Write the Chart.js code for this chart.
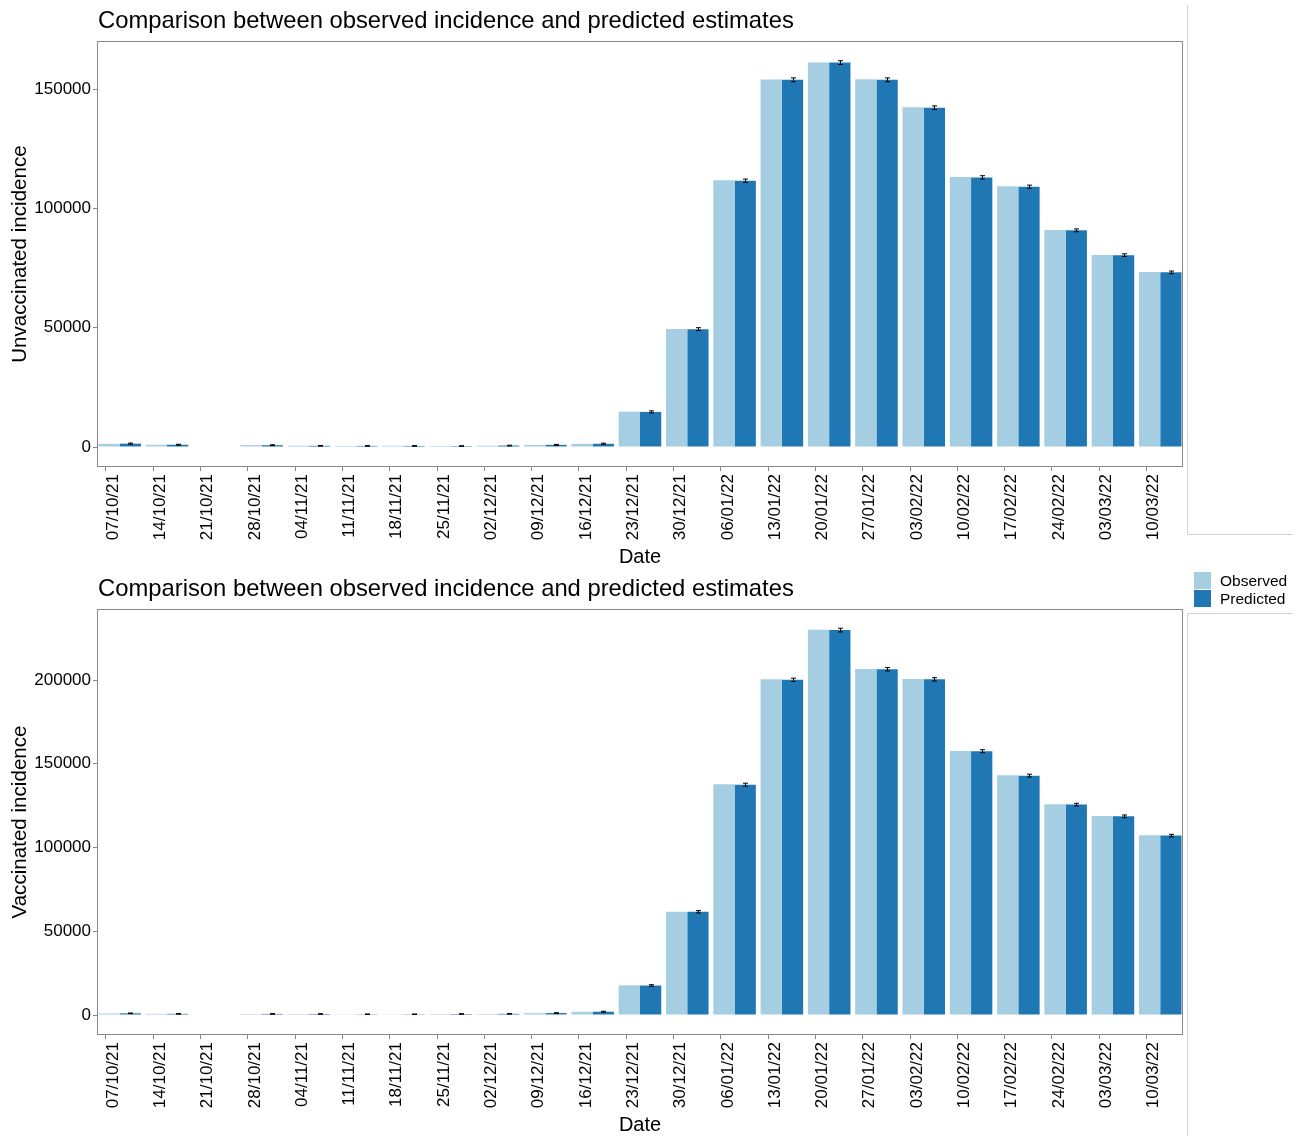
<!DOCTYPE html>
<html><head><meta charset="utf-8">
<script src="https://cdn.jsdelivr.net/npm/chart.js@4"></script>
<style>
html,body{margin:0;padding:0;background:#fff;}
#wrap{position:relative;width:1306px;height:1136px;overflow:hidden;font-family:"Liberation Sans",Arial,sans-serif;}
.cv{position:absolute;left:0;width:1306px;height:568px;}
.ln{position:absolute;background:#d4d4d4;}
.lg{position:absolute;left:1194px;width:17px;height:17px;}
.lt{position:absolute;left:1220px;font-size:15.5px;line-height:18px;color:#000;}
</style></head><body>
<div id="wrap">
<div class="cv" style="top:0"><canvas id="c1" width="1306" height="568"></canvas></div>
<div class="cv" style="top:568px"><canvas id="c2" width="1306" height="568"></canvas></div>
<div class="ln" style="left:1187px;top:5px;width:1px;height:530px"></div>
<div class="ln" style="left:1187px;top:534px;width:106px;height:1px"></div>
<div class="ln" style="left:1187px;top:613px;width:106px;height:1px"></div>
<div class="ln" style="left:1187px;top:613px;width:1px;height:523px"></div>
<div class="lg" style="top:572px;background:#A6CEE3"></div>
<div class="lg" style="top:590px;background:#1F78B4"></div>
<div class="lt" style="top:572px">Observed</div>
<div class="lt" style="top:590px">Predicted</div>
</div>
<script>
const tickLabels = ["07/10/21","14/10/21","21/10/21","28/10/21","04/11/21","11/11/21","18/11/21","25/11/21","02/12/21","09/12/21","16/12/21","23/12/21","30/12/21","06/01/22","13/01/22","20/01/22","27/01/22","03/02/22","10/02/22","17/02/22","24/02/22","03/03/22","10/03/22"];

const unvaxObserved  = [1300, 900, null, 800, 550, 450, 500, 450, 550, 850, 1300, 14800, 49500, 111800, 154000, 161200, 154100, 142400, 113200, 109300, 90900, 80500, 73300];
const unvaxPredicted = [1400, 950, null, 750, 500, 450, 450, 400, 600, 900, 1350, 14700, 49400, 111600, 153900, 161100, 153900, 142200, 113000, 109100, 90800, 80400, 73200];
const unvaxError     = [250, 200, null, 180, 150, 120, 130, 120, 150, 200, 250, 450, 600, 700, 800, 800, 800, 750, 700, 650, 600, 550, 550];

const vaxObserved  = [900, 700, null, 600, 600, 400, 400, 600, 650, 1100, 1900, 17700, 61700, 137700, 200400, 230000, 206600, 200600, 157600, 143100, 125800, 118800, 107300];
const vaxPredicted = [1000, 700, null, 650, 600, 450, 450, 600, 700, 1150, 1950, 17600, 61600, 137500, 200100, 229800, 206400, 200400, 157500, 142900, 125600, 118600, 107100];
const vaxError     = [200, 180, null, 170, 170, 150, 150, 170, 180, 220, 280, 500, 700, 900, 1000, 1100, 1000, 1000, 900, 850, 800, 800, 750];

const unvaxTicks = [0, 50000, 100000, 150000];
const vaxTicks = [0, 50000, 100000, 150000, 200000];

const titleText = "Comparison between observed incidence and predicted estimates";
const FONT = '"Liberation Sans", Arial, sans-serif';
const barShift = 0.29;

function toPoints(arr) {
  return arr.map((v, i) => ({ x: i + barShift, y: v }));
}

const decor = {
  id: 'decor',
  afterDatasetsDraw(chart, args, opts) {
    const ctx = chart.ctx;
    const ys = chart.scales.y;
    const meta = chart.getDatasetMeta(1);
    const vals = chart.data.datasets[1].data;
    ctx.save();
    ctx.strokeStyle = '#000';
    ctx.lineWidth = 1;
    meta.data.forEach((bar, i) => {
      const d = vals[i];
      if (d.y == null) return;
      const e = opts.err[i];
      const y1 = ys.getPixelForValue(d.y - e);
      const y2 = ys.getPixelForValue(d.y + e);
      const x = Math.round(bar.x) + 0.5;
      ctx.beginPath();
      ctx.moveTo(x, y1); ctx.lineTo(x, y2);
      ctx.moveTo(x - 2.5, y1); ctx.lineTo(x + 2.5, y1);
      ctx.moveTo(x - 2.5, y2); ctx.lineTo(x + 2.5, y2);
      ctx.stroke();
    });
    ctx.restore();
  },
  afterDraw(chart) {
    const ctx = chart.ctx;
    const a = chart.chartArea;
    ctx.save();
    ctx.strokeStyle = '#888';
    ctx.lineWidth = 1;
    ctx.strokeRect(Math.round(a.left) - 0.5, Math.round(a.top) - 0.5, Math.round(a.width) + 1, Math.round(a.height) + 1);
    ctx.fillStyle = '#000';
    ctx.font = '23.8px ' + FONT;
    ctx.textAlign = 'left';
    ctx.textBaseline = 'middle';
    ctx.fillText(titleText, a.left, 21);
    ctx.restore();
  }
};

function makeChart(id, obs, pred, err, yTicks, yMin, yMax, yTitle) {
  new Chart(document.getElementById(id), {
    type: 'bar',
    data: {
      datasets: [
        { label: 'Observed', data: toPoints(obs), backgroundColor: '#A6CEE3', borderWidth: 0 },
        { label: 'Predicted', data: toPoints(pred), backgroundColor: '#1F78B4', borderWidth: 0 }
      ]
    },
    options: {
      responsive: false,
      animation: false,
      devicePixelRatio: 1,
      layout: { padding: { left: 0, right: 124, top: 42, bottom: 0 } },
      datasets: { bar: { categoryPercentage: 0.9, barPercentage: 1.0, grouped: true } },
      plugins: {
        legend: { display: false },
        tooltip: { enabled: false },
        title: { display: false },
        decor: { err: err }
      },
      scales: {
        x: {
          type: 'linear',
          offset: false,
          min: -0.169,
          max: 22.75,
          afterBuildTicks: (s) => { s.ticks = tickLabels.map((_, i) => ({ value: i })); },
          afterFit: (s) => { s.height = 102; },
          grid: { display: true, offset: false, drawOnChartArea: false, drawTicks: true, tickLength: 5, color: '#888' },
          border: { display: false },
          ticks: {
            autoSkip: false, minRotation: 90, maxRotation: 90, padding: 3, labelOffset: 7,
            color: '#000', font: { family: FONT, size: 17 },
            callback: (v) => tickLabels[Math.round(v)]
          },
          title: { display: true, text: 'Date', color: '#000', font: { family: FONT, size: 20, lineHeight: 1 }, padding: { top: 0, bottom: 1 } }
        },
        y: {
          type: 'linear',
          min: yMin,
          max: yMax,
          afterBuildTicks: (s) => { s.ticks = yTicks.map(v => ({ value: v })); },
          afterFit: (s) => { s.width = 98; },
          grid: { display: true, drawOnChartArea: false, drawTicks: true, tickLength: 5, color: '#888' },
          border: { display: false },
          ticks: { padding: 2, color: '#000', font: { family: FONT, size: 17 }, callback: (v) => String(v) },
          title: { display: true, text: yTitle, color: '#000', font: { family: FONT, size: 20.6, lineHeight: 1 }, padding: { top: 10, bottom: 0 } }
        }
      }
    },
    plugins: [decor]
  });
}

makeChart('c1', unvaxObserved, unvaxPredicted, unvaxError, unvaxTicks, -7963, 169740, 'Unvaccinated incidence');
makeChart('c2', vaxObserved, vaxPredicted, vaxError, vaxTicks, -11343, 241791, 'Vaccinated incidence');
</script>
</body></html>
